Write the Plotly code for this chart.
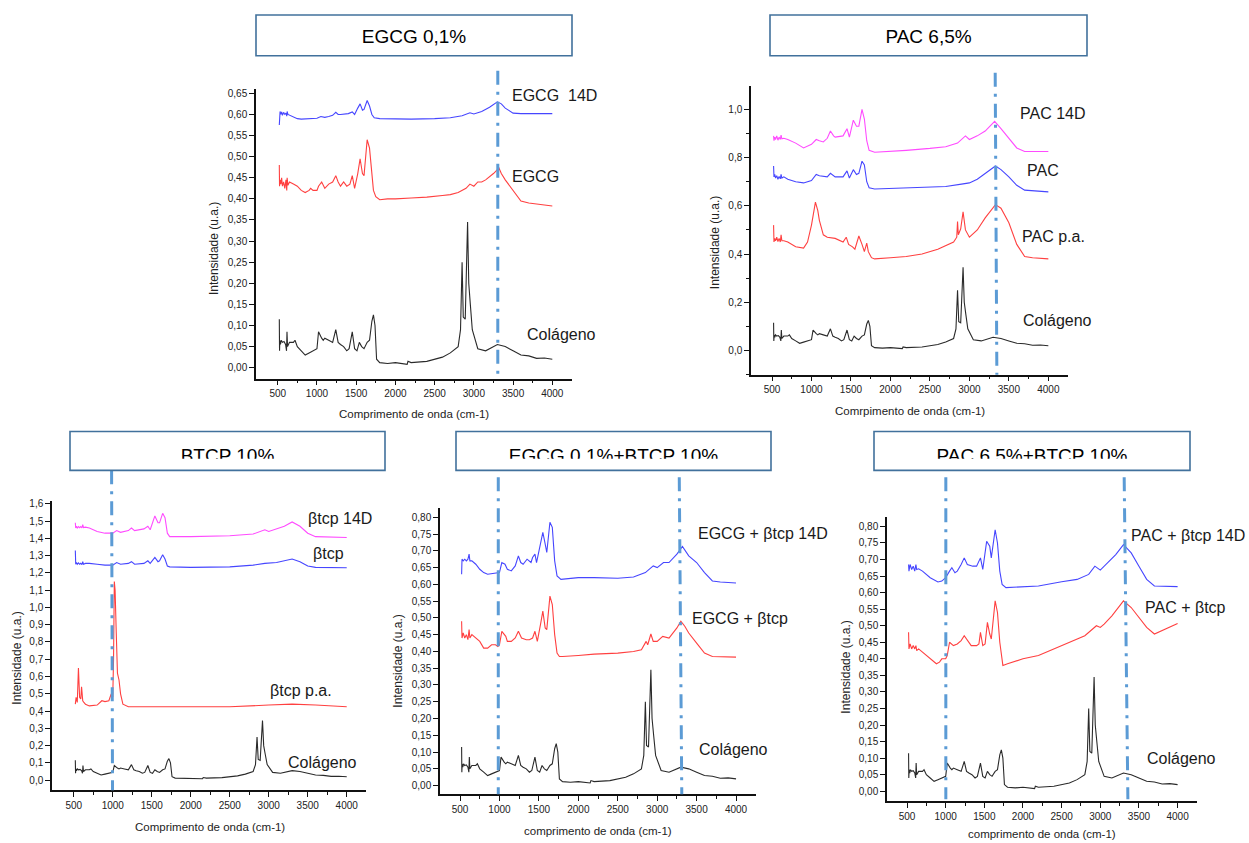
import plotly.graph_objects as go

W, H = 1249, 843

def fx(p):
    return p / W

def fy(p):
    return 1 - p / H

# ---------------- data (wavenumber cm-1, intensity u.a.) ----------------
COLAGENO = [(520,0.115),(523,0.04),(527,0.065),(535,0.055),(545,0.065),(560,0.06),(580,0.062),(600,0.055),(612,0.04),(618,0.085),
            (625,0.05),(650,0.06),(700,0.06),(720,0.065),(750,0.05),(800,0.04),(850,0.03),(900,0.035),(950,0.04),(1000,0.045),
            (1020,0.085),(1040,0.075),(1060,0.07),(1080,0.065),(1100,0.07),(1150,0.065),(1200,0.06),(1240,0.09),(1270,0.06),(1300,0.055),
            (1340,0.05),(1380,0.04),(1410,0.045),(1450,0.085),(1480,0.045),(1510,0.04),(1540,0.06),(1570,0.05),(1600,0.045),(1640,0.06),
            (1670,0.065),(1700,0.11),(1720,0.125),(1740,0.10),(1760,0.02),(1800,0.012),(1900,0.01),(2000,0.012),(2100,0.01),(2150,0.008),
            (2160,0.015),(2200,0.012),(2400,0.015),(2600,0.025),(2700,0.035),(2800,0.05),(2830,0.09),(2850,0.25),(2865,0.12),(2890,0.115),
            (2920,0.345),(2935,0.20),(2955,0.15),(2980,0.09),(3050,0.045),(3150,0.04),(3300,0.055),(3400,0.05),(3500,0.04),(3600,0.03),
            (3700,0.028),(3800,0.022),(3900,0.023),(4000,0.02)]

EGCG_14D = [(520,0.575),(523,0.60),(530,0.607),(540,0.60),(550,0.606),(560,0.598),(575,0.605),(590,0.60),(605,0.603),(615,0.596),
            (620,0.607),(630,0.60),(650,0.598),(700,0.593),(750,0.59),(800,0.589),(900,0.59),(1000,0.591),(1050,0.595),(1100,0.593),
            (1150,0.595),(1200,0.598),(1240,0.605),(1270,0.60),(1300,0.60),(1400,0.602),(1450,0.606),(1480,0.60),(1520,0.615),(1550,0.625),
            (1580,0.61),(1600,0.612),(1640,0.633),(1670,0.62),(1700,0.60),(1730,0.592),(1800,0.59),(2000,0.589),(2200,0.589),(2500,0.59),
            (2700,0.592),(2850,0.597),(2950,0.604),(3000,0.601),(3100,0.607),(3200,0.617),(3300,0.63),(3350,0.625),(3400,0.615),(3500,0.603),
            (3600,0.602),(3800,0.602),(4000,0.602)]

EGCG = [(520,0.48),(523,0.43),(530,0.445),(540,0.435),(550,0.45),(560,0.43),(575,0.44),(590,0.425),(605,0.445),(615,0.42),
        (620,0.45),(630,0.432),(650,0.44),(700,0.435),(750,0.43),(800,0.42),(850,0.415),(900,0.42),(920,0.425),(950,0.42),
        (1000,0.42),(1020,0.43),(1060,0.44),(1100,0.425),(1150,0.435),(1200,0.44),(1240,0.455),(1270,0.44),(1300,0.43),(1340,0.44),
        (1380,0.43),(1420,0.435),(1450,0.455),(1480,0.425),(1520,0.46),(1550,0.495),(1580,0.46),(1600,0.455),(1640,0.54),(1670,0.52),
        (1700,0.45),(1720,0.42),(1750,0.405),(1800,0.398),(1900,0.40),(2000,0.40),(2200,0.402),(2400,0.404),(2600,0.408),(2700,0.41),
        (2800,0.415),(2900,0.425),(2950,0.435),(3000,0.43),(3050,0.44),(3100,0.44),(3150,0.445),(3250,0.46),(3320,0.473),(3350,0.46),
        (3400,0.445),(3500,0.42),(3600,0.395),(3700,0.39),(3800,0.388),(3900,0.386),(4000,0.383)]

PAC_14D = [(520,0.89),(525,0.87),(535,0.885),(545,0.875),(560,0.89),(575,0.872),(590,0.885),(605,0.875),(615,0.893),(625,0.878),
           (650,0.88),(700,0.875),(800,0.86),(900,0.84),(1000,0.855),(1060,0.875),(1100,0.87),(1150,0.865),(1200,0.88),(1240,0.91),
           (1280,0.89),(1300,0.885),(1400,0.89),(1450,0.92),(1480,0.885),(1530,0.955),(1570,0.93),(1600,0.93),(1640,1.0),(1670,0.96),
           (1700,0.87),(1730,0.83),(1800,0.822),(2000,0.825),(2200,0.83),(2500,0.838),(2700,0.845),(2850,0.86),(2950,0.89),(3000,0.875),
           (3100,0.89),(3200,0.91),(3320,0.95),(3400,0.92),(3500,0.88),(3600,0.84),(3700,0.825),(4000,0.825)]

PAC = [(520,0.765),(525,0.72),(535,0.73),(545,0.715),(560,0.725),(575,0.71),(590,0.722),(605,0.712),(615,0.73),(625,0.715),
       (650,0.72),(700,0.71),(800,0.70),(900,0.695),(1000,0.705),(1060,0.73),(1100,0.725),(1200,0.72),(1240,0.735),(1300,0.72),
       (1400,0.72),(1450,0.745),(1480,0.715),(1530,0.75),(1570,0.73),(1600,0.735),(1640,0.785),(1670,0.77),(1700,0.70),(1730,0.675),
       (1800,0.67),(2000,0.672),(2400,0.675),(2700,0.68),(2900,0.69),(3000,0.695),(3100,0.71),(3200,0.735),(3330,0.765),(3400,0.75),
       (3500,0.72),(3600,0.685),(3700,0.665),(4000,0.658)]

PAC_PA = [(520,0.52),(525,0.45),(535,0.465),(545,0.455),(560,0.47),(575,0.452),(590,0.465),(605,0.45),(615,0.48),(625,0.455),
          (650,0.455),(700,0.45),(800,0.43),(900,0.425),(950,0.45),(1000,0.52),(1050,0.615),(1080,0.58),(1100,0.54),(1150,0.48),
          (1200,0.47),(1300,0.465),(1400,0.45),(1440,0.47),(1470,0.44),(1520,0.43),(1550,0.42),(1600,0.475),(1640,0.44),(1670,0.41),
          (1700,0.445),(1720,0.41),(1760,0.385),(1800,0.38),(2000,0.385),(2200,0.39),(2400,0.40),(2600,0.42),(2800,0.45),(2840,0.47),
          (2850,0.535),(2860,0.48),(2890,0.505),(2920,0.575),(2950,0.50),(3000,0.47),(3100,0.50),(3200,0.55),(3330,0.605),(3400,0.59),
          (3500,0.53),(3600,0.44),(3700,0.39),(3800,0.385),(4000,0.38)]

BTCP_14D = [(520,1.49),(525,1.46),(535,1.47),(545,1.46),(560,1.468),(575,1.462),(590,1.468),(605,1.46),(615,1.48),(625,1.462),
            (650,1.465),(700,1.46),(800,1.44),(900,1.43),(1000,1.43),(1050,1.445),(1100,1.435),(1200,1.445),(1240,1.46),(1280,1.445),
            (1400,1.455),(1450,1.47),(1480,1.45),(1540,1.53),(1580,1.49),(1600,1.49),(1640,1.545),(1670,1.52),(1700,1.43),(1730,1.41),
            (2000,1.41),(2500,1.415),(2800,1.425),(2950,1.45),(3000,1.44),(3100,1.455),(3200,1.47),(3300,1.495),(3400,1.47),(3500,1.43),
            (3600,1.41),(4000,1.405)]

BTCP = [(520,1.33),(525,1.25),(535,1.26),(545,1.25),(560,1.258),(575,1.25),(590,1.256),(605,1.248),(615,1.265),(625,1.25),
        (650,1.255),(700,1.255),(800,1.25),(900,1.245),(1000,1.245),(1050,1.26),(1100,1.25),(1200,1.255),(1240,1.265),(1280,1.25),
        (1400,1.255),(1450,1.27),(1480,1.255),(1540,1.29),(1580,1.265),(1600,1.27),(1640,1.305),(1670,1.28),(1700,1.24),(1730,1.235),
        (2000,1.232),(2500,1.235),(2800,1.245),(2950,1.255),(3100,1.26),(3200,1.27),(3300,1.28),(3400,1.265),(3500,1.24),(3600,1.232),
        (4000,1.23)]

BTCP_PA = [(520,0.44),(530,0.48),(545,0.45),(560,0.65),(575,0.48),(590,0.47),(600,0.54),(615,0.46),(630,0.45),(650,0.44),
           (700,0.43),(800,0.435),(860,0.46),(900,0.455),(950,0.46),(980,0.50),(1000,0.48),(1010,0.70),(1020,1.15),(1030,1.10),
           (1045,0.85),(1060,0.62),(1080,0.58),(1100,0.50),(1130,0.44),(1200,0.425),(1500,0.425),(2000,0.425),(2500,0.425),(3000,0.435),
           (3300,0.44),(3600,0.435),(4000,0.425)]

EGCG_BTCP_14D = [(520,0.63),(525,0.675),(540,0.67),(560,0.675),(580,0.67),(600,0.675),(615,0.69),(625,0.67),(650,0.67),(700,0.66),
                 (750,0.645),(800,0.635),(850,0.63),(900,0.632),(950,0.632),(1000,0.635),(1030,0.665),(1070,0.66),(1100,0.645),(1150,0.64),
                 (1200,0.655),(1240,0.685),(1270,0.665),(1300,0.66),(1350,0.675),(1400,0.665),(1420,0.68),(1450,0.69),(1470,0.665),(1500,0.70),
                 (1550,0.755),(1580,0.72),(1600,0.695),(1640,0.785),(1670,0.77),(1700,0.67),(1730,0.625),(1780,0.615),(1900,0.618),(2000,0.62),
                 (2200,0.62),(2500,0.618),(2700,0.622),(2850,0.635),(2950,0.655),(3000,0.65),(3080,0.665),(3150,0.665),(3250,0.69),(3320,0.713),
                 (3400,0.685),(3500,0.665),(3600,0.635),(3700,0.61),(3800,0.607),(4000,0.604)]

EGCG_BTCP = [(520,0.49),(525,0.44),(540,0.455),(560,0.44),(580,0.45),(600,0.435),(615,0.465),(625,0.44),(650,0.45),(700,0.44),
             (750,0.43),(800,0.41),(850,0.41),(900,0.42),(950,0.42),(980,0.415),(1000,0.42),(1030,0.46),(1080,0.445),(1100,0.43),
             (1150,0.43),(1200,0.44),(1240,0.46),(1280,0.44),(1340,0.435),(1380,0.435),(1420,0.44),(1450,0.46),(1480,0.43),(1520,0.48),
             (1550,0.52),(1580,0.47),(1600,0.465),(1640,0.565),(1670,0.54),(1700,0.45),(1730,0.395),(1760,0.385),(1800,0.385),(2000,0.388),
             (2200,0.392),(2500,0.395),(2700,0.40),(2800,0.405),(2840,0.42),(2860,0.43),(2880,0.42),(2920,0.452),(2950,0.43),(3000,0.43),
             (3070,0.445),(3150,0.44),(3250,0.47),(3300,0.49),(3350,0.475),(3400,0.455),(3500,0.425),(3600,0.395),(3700,0.385),(3800,0.384),
             (4000,0.383)]

PAC_BTCP_14D = [(520,0.685),(525,0.665),(540,0.685),(560,0.67),(580,0.68),(600,0.665),(615,0.685),(625,0.67),(650,0.672),(700,0.665),
                (800,0.645),(900,0.632),(950,0.635),(1000,0.645),(1050,0.665),(1080,0.675),(1120,0.66),(1150,0.665),(1200,0.685),(1240,0.705),
                (1280,0.685),(1350,0.68),(1400,0.68),(1430,0.695),(1450,0.705),(1480,0.67),(1530,0.755),(1570,0.74),(1590,0.705),(1640,0.79),
                (1670,0.75),(1700,0.665),(1730,0.625),(1780,0.615),(2000,0.617),(2200,0.62),(2500,0.633),(2700,0.64),(2850,0.655),(2930,0.68),
                (3000,0.668),(3100,0.69),(3200,0.715),(3300,0.745),(3400,0.72),(3500,0.68),(3600,0.64),(3700,0.62),(4000,0.618)]

PAC_BTCP = [(520,0.48),(525,0.43),(540,0.445),(560,0.43),(580,0.44),(600,0.43),(615,0.44),(625,0.425),(650,0.43),(700,0.42),
            (800,0.40),(850,0.39),(880,0.385),(920,0.39),(950,0.40),(1000,0.40),(1020,0.41),(1050,0.45),(1100,0.44),(1150,0.445),
            (1200,0.455),(1240,0.47),(1280,0.455),(1330,0.44),(1400,0.44),(1430,0.445),(1450,0.48),(1480,0.44),(1510,0.445),(1540,0.51),
            (1570,0.475),(1590,0.46),(1640,0.575),(1670,0.54),(1700,0.45),(1740,0.38),(1800,0.385),(2000,0.40),(2200,0.41),(2500,0.44),
            (2800,0.47),(2950,0.50),(3000,0.495),(3050,0.505),(3150,0.53),(3250,0.56),(3300,0.575),(3400,0.555),(3500,0.525),(3600,0.495),
            (3700,0.475),(3800,0.485),(3900,0.495),(4000,0.507)]

TITLES = ["EGCG 0,1%", "PAC 6,5%", "BTCP 10%", "EGCG 0,1%+BTCP 10%", "PAC 6,5%+BTCP 10%"]
XTITLES = ["Comprimento de onda (cm-1)", "Comrpimento de onda (cm-1)", "Comprimento de onda (cm-1)",
           "comprimento de onda (cm-1)", "comprimento de onda (cm-1)"]
YTITLE = "Intensidade (u.a.)"
XTICKS = [500, 1000, 1500, 2000, 2500, 3000, 3500, 4000]
# reference wavenumbers marked with dash-dot lines (top, bottom)
MARKERS = [[(3305, 3305)], [(3327, 3348)], [(985, 997)], [(985, 985), (3280, 3312)], [(1002, 1002), (3309, 3357)]]

BLUE, RED, MAG, BLACK = "#4646FF", "#FF4040", "#FF4BFF", "#2a2a2a"

# ---------------- layout geometry (pixels) ----------------
panels = [
    dict(box=(256, 572, 86, 377), xr=(223, 4251), yr=(-0.026, 0.661), dt=0.05, fmt=".2f", minor=None,
         curves=[(EGCG_14D, BLUE, "EGCG  14D", 510, 93), (EGCG, RED, "EGCG", 510, 174), (COLAGENO, BLACK, "Colágeno", 525, 333)],
         xt=(414, 412), yt=(214, 246), mk=(68, 377)),
    dict(box=(751, 1068, 83, 373), xr=(234, 4249), yr=(-0.10, 1.098), dt=0.2, fmt=".1f", minor=0.1,
         curves=[(PAC_14D, MAG, "PAC 14D", 1018, 111), (PAC, BLUE, "PAC", 1025, 168), (PAC_PA, RED, "PAC p.a.", 1020, 234),
                 (COLAGENO, BLACK, "Colágeno", 1021, 319)],
         xt=(910, 409), yt=(715, 240), mk=(70, 373)),
    dict(box=(52, 366, 500, 790), xr=(221, 4247), yr=(-0.058, 1.615), dt=0.1, fmt=".1f", minor=None,
         curves=[(BTCP_14D, MAG, "βtcp 14D", 306, 517), (BTCP, BLUE, "βtcp", 311, 552), (BTCP_PA, RED, "βtcp p.a.", 268, 690),
                 (COLAGENO, BLACK, "Colágeno", 286, 762)],
         xt=(210, 827), yt=(17, 658), mk=(469, 790)),
    dict(box=(440, 756, 507, 794), xr=(246, 4253), yr=(-0.0255, 0.827), dt=0.05, fmt=".2f", minor=None,
         curves=[(EGCG_BTCP_14D, BLUE, "EGCG + βtcp 14D", 696, 532), (EGCG_BTCP, RED, "EGCG + βtcp", 690, 618),
                 (COLAGENO, BLACK, "Colágeno", 697, 749)],
         xt=(598, 831), yt=(398, 661), mk=(476, 794)),
    dict(box=(887, 1197, 516, 801), xr=(241, 4251), yr=(-0.030, 0.828), dt=0.05, fmt=".2f", minor=None,
         curves=[(PAC_BTCP_14D, BLUE, "PAC + βtcp 14D", 1129, 534), (PAC_BTCP, RED, "PAC + βtcp", 1143, 607),
                 (COLAGENO, BLACK, "Colágeno", 1145, 758)],
         xt=(1042, 834), yt=(846, 667), mk=(476, 799)),
]
TITLE_BOXES = [(256, 572, 12, 53), (770, 1087, 12, 53), (70, 385, 430, 469), (456, 771, 430, 469), (874, 1190, 430, 469)]
TITLE_Y = [35, 35, 456, 456, 456]
CLIP_Y = 457.5

FONT = "Liberation Sans, Arial, sans-serif"

fig = go.Figure()
layout = dict(width=W, height=H, margin=dict(l=0, r=0, t=0, b=0), paper_bgcolor="white",
              plot_bgcolor="rgba(0,0,0,0)", showlegend=False, separators=",.",
              font=dict(family=FONT, color="#222"))
annotations, shapes = [], []

for i, p in enumerate(panels, start=1):
    x0, x1, top, bot = p["box"]
    xa = "x" if i == 1 else f"x{i}"
    ya = "y" if i == 1 else f"y{i}"
    for data, col, name, lx, ly in p["curves"]:
        fig.add_trace(go.Scatter(x=[d[0] for d in data], y=[d[1] for d in data], mode="lines",
                                 line=dict(color=col, width=1.1), xaxis=xa, yaxis=ya, hoverinfo="skip"))
        annotations.append(dict(x=fx(lx), y=fy(ly), xref="paper", yref="paper", text=name, showarrow=False,
                                xanchor="left", yanchor="middle", font=dict(size=16, color="#1a1a1a", family=FONT)))
    xkey = "xaxis" if i == 1 else f"xaxis{i}"
    ykey = "yaxis" if i == 1 else f"yaxis{i}"
    layout[xkey] = dict(domain=[fx(x0), fx(x1)], anchor=ya, range=list(p["xr"]), tickvals=XTICKS,
                        ticks="outside", ticklen=5, tickwidth=1.3, tickcolor="#111", showline=True, linecolor="#111",
                        linewidth=1.5, showgrid=False, zeroline=False, tickfont=dict(size=10, color="#222"),
                        minor=dict(tickvals=[750, 1250, 1750, 2250, 2750, 3250, 3750], ticks="outside", ticklen=3,
                                   tickcolor="#111", tickwidth=1))
    ydict = dict(domain=[fy(bot), fy(top)], anchor=xa, range=list(p["yr"]), tick0=0, dtick=p["dt"],
                 tickformat=p["fmt"], ticks="outside", ticklen=5, tickwidth=1.3, tickcolor="#111", showline=True,
                 linecolor="#111", linewidth=1.5, showgrid=False, zeroline=False, tickfont=dict(size=10, color="#222"))
    if p["minor"]:
        ydict["minor"] = dict(dtick=p["minor"], ticks="outside", ticklen=3, tickcolor="#111", tickwidth=1)
    layout[ykey] = ydict
    annotations.append(dict(x=fx(p["xt"][0]), y=fy(p["xt"][1]), xref="paper", yref="paper", text=XTITLES[i - 1],
                            showarrow=False, xanchor="center", yanchor="middle", font=dict(size=11.5, color="#222")))
    annotations.append(dict(x=fx(p["yt"][0]), y=fy(p["yt"][1]), xref="paper", yref="paper", text=YTITLE,
                            showarrow=False, textangle=-90, xanchor="center", yanchor="middle",
                            font=dict(size=12, color="#222")))
    for (xa0, xa1) in MARKERS[i - 1]:
        shapes.append(dict(type="line", xref=xa, yref="paper", x0=xa0, x1=xa1, y0=fy(p["mk"][0]), y1=fy(p["mk"][1]),
                           line=dict(color="#5B9BD5", width=3, dash="14px,7px,3px,7px"), layer="above"))

# overlay axis in pixel space: carries the title-box texts and the boxes that clip the lower ones
layout["xaxis6"] = dict(domain=[0, 1], range=[0, W], visible=False, fixedrange=True, anchor="y6")
layout["yaxis6"] = dict(domain=[0, 1], range=[H, 0], visible=False, fixedrange=True, anchor="x6")
fig.add_trace(go.Scatter(x=[(b[0] + b[1]) / 2 for b in TITLE_BOXES], y=TITLE_Y, text=TITLES, mode="text",
                         textposition="middle center", textfont=dict(size=19, color="black", family=FONT),
                         xaxis="x6", yaxis="y6", hoverinfo="skip", cliponaxis=False))

for k, (bx0, bx1, by0, by1) in enumerate(TITLE_BOXES):
    if k >= 2:
        shapes.append(dict(type="rect", xref="x6", yref="y6", x0=bx0 + 1, x1=bx1 - 1, y0=CLIP_Y, y1=by1 - 1,
                           fillcolor="white", line=dict(width=0), layer="above"))
    shapes.append(dict(type="rect", xref="x6", yref="y6", x0=bx0, x1=bx1, y0=by0, y1=by1,
                       line=dict(color="#41719C", width=1.6), fillcolor="rgba(0,0,0,0)", layer="above"))

layout["annotations"] = annotations
layout["shapes"] = shapes
fig.update_layout(**layout)
fig.write_html("out.html")
